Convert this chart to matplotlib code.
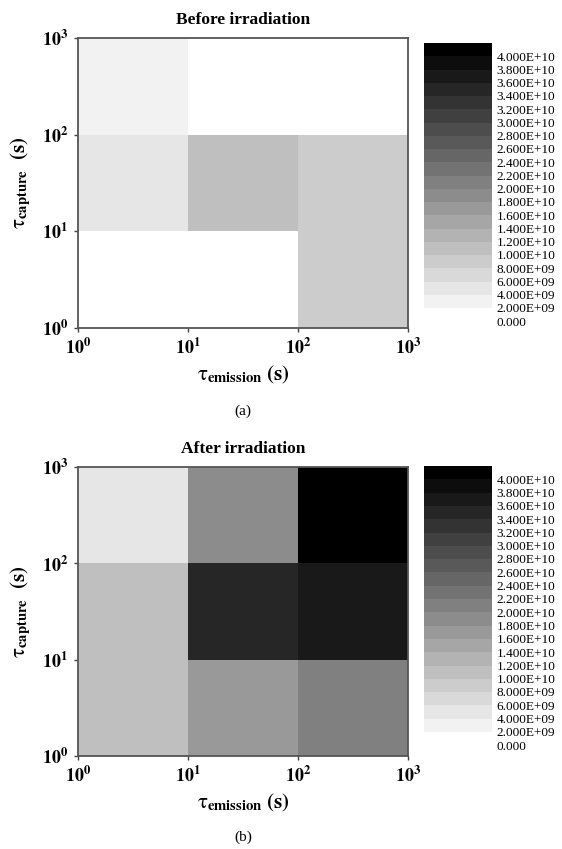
import numpy as np
import matplotlib.pyplot as plt
from matplotlib.colors import ListedColormap, BoundaryNorm

plt.rcParams['font.family'] = ['Liberation Serif', 'DejaVu Serif']
plt.rcParams['mathtext.fontset'] = 'stix'

# bin edges of the time constants (s)
t_emission_edges = [1, 10, 100, 1000]
t_capture_edges = [1, 10, 100, 1000]

# trap density per cell, rows = capture bins (low -> high), cols = emission bins
nan = np.nan
before = [
    [nan, nan, 7.0e9],
    [3.0e9, 9.0e9, 7.0e9],
    [1.0e9, nan, nan],
]
after = [
    [9.0e9, 1.5e10, 1.9e10],
    [9.0e9, 3.3e10, 3.5e10],
    [3.0e9, 1.7e10, 3.9e10],
]

titles = ['Before irradiation', 'After irradiation']
panel_tags = ['(a)', '(b)']

levels = np.linspace(0, 4e10, 21)
cbar_labels = ['0.000' if v == 0 else f'{v:.3E}' for v in levels]

greys = [0.95 * (1 - i / 19) for i in range(20)]
cmap = ListedColormap([(g, g, g) for g in greys])
cmap.set_bad('white')
norm = BoundaryNorm(levels, cmap.N)

fig = plt.figure(figsize=(5.62, 8.49), dpi=100)

ax_pos = [[0.1388, 0.6137, 0.5872, 0.3416], [0.1388, 0.1095, 0.5872, 0.3404]]
cax_pos = [[0.7544, 0.6372, 0.121, 0.3121], [0.7544, 0.1378, 0.121, 0.3133]]
tag_y = [1 - 411 / 849, 1 - 837 / 849]


def decade(v, pos=None):
    return r'$\mathbf{10^{%d}}$' % int(round(np.log10(v)))


for k, data in enumerate([before, after]):
    ax = fig.add_axes(ax_pos[k])
    z = np.ma.masked_invalid(np.array(data))
    ax.pcolormesh(t_emission_edges, t_capture_edges, z, cmap=cmap, norm=norm,
                  edgecolors='none', antialiased=False)
    ax.set_xscale('log')
    ax.set_yscale('log')
    ax.set_xlim(1, 1000)
    ax.set_ylim(1, 1000)
    ax.set_xticks([1, 10, 100, 1000])
    ax.set_yticks([1, 10, 100, 1000])
    ax.xaxis.set_major_formatter(plt.FuncFormatter(decade))
    ax.yaxis.set_major_formatter(plt.FuncFormatter(decade))
    ax.minorticks_off()
    ax.tick_params(direction='out', length=3, width=1, color='#444444',
                   labelsize=13, pad=4)
    for s in ax.spines.values():
        s.set_color('#555555')
        s.set_linewidth(1.3)

    ax.set_title(titles[k], fontsize=12.5, fontweight='bold', pad=10)
    ax.set_xlabel(r'$\mathrm{\tau}_{\mathbf{emission}}\ \mathbf{(s)}$', fontsize=15)
    ax.set_ylabel(r'$\mathrm{\tau}_{\mathbf{capture}}\ \ \mathbf{(s)}$', fontsize=15)
    ax.xaxis.set_label_coords(0.5, -0.125)
    ax.yaxis.set_label_coords(-0.135, 0.5)

    fig.text(0.4324, tag_y[k], panel_tags[k], ha='center', va='center', fontsize=11)

    # colour legend drawn as a stack of level bands
    cax = fig.add_axes(cax_pos[k])
    band_mid = (levels[:-1] + levels[1:]) / 2
    cax.pcolormesh([0, 1], levels, band_mid[:, None], cmap=cmap, norm=norm,
                   edgecolors='none', antialiased=False)
    cax.set_xlim(0, 1)
    cax.set_ylim(levels[0], levels[-1])
    cax.set_xticks([])
    cax.set_yticks([])
    for s in cax.spines.values():
        s.set_visible(False)
    step = levels[1] - levels[0]
    for v, lab in zip(levels, cbar_labels):
        cax.text(1.07, v - 1.1 * step, lab, transform=cax.get_yaxis_transform(),
                 ha='left', va='center', fontsize=9.5, clip_on=False)

fig.savefig('out.png', dpi=100)
